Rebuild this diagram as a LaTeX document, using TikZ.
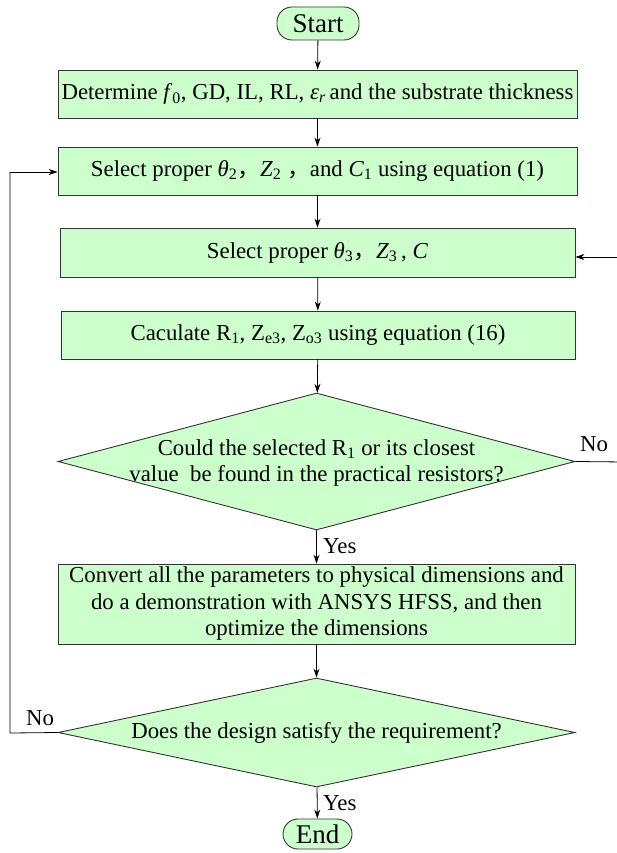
\documentclass[tikz,border=0pt]{standalone}
\usepackage{fontspec}
\setmainfont{Liberation Serif}
\newfontfamily\cjk{Noto Sans CJK SC}
\usetikzlibrary{shapes.geometric,arrows.meta}
\definecolor{boxgreen}{HTML}{CCFFCC}
\definecolor{edgegray}{HTML}{333333}
\begin{document}
\begin{tikzpicture}[x=1pt,y=-1pt,
  every node/.style={font=\fontsize{22.8}{26.5}\selectfont},
  procbox/.style={draw=edgegray,fill=boxgreen,line width=0.9pt,inner sep=0pt,rectangle},
  termbox/.style={draw=edgegray,fill=boxgreen,line width=0.9pt,inner sep=0pt,rectangle,rounded corners=15pt},
  decbox/.style={draw=edgegray,fill=boxgreen,line width=0.9pt,inner sep=0pt,diamond},
  conn/.style={draw=black,line width=0.8pt,-{Stealth[length=9pt,width=6pt]}},
  plainconn/.style={draw=black,line width=0.8pt},
  lbl/.style={inner sep=0pt}]
\useasboundingbox (0,0) rectangle (616,853);
\fill[white] (0,0) rectangle (616,853);

\node[termbox,minimum width=82pt,minimum height=33pt,font=\fontsize{27}{30}\selectfont] (start) at (318,23.5) {Start};
\node[procbox,minimum width=519pt,minimum height=48pt] (b1) at (317.5,94)
  {Determine \textit{f}\textsubscript{0}, GD, IL, RL, \textit{ε}\textsubscript{\textit{r}}\,and the substrate thickness};
\node[procbox,minimum width=519pt,minimum height=48pt] (b2) at (317.5,171)
  {Select proper \textit{θ}\textsubscript{2}{\cjk ，}\textit{Z}\textsubscript{2}\ {\cjk ，}and \textit{C}\textsubscript{1} using equation (1)};
\node[procbox,minimum width=515pt,minimum height=49pt] (b3) at (317.5,252.5)
  {Select proper \textit{θ}\textsubscript{3}{\cjk ，}\textit{Z}\textsubscript{3}\,, \textit{C}};
\node[procbox,minimum width=514pt,minimum height=48pt] (b4) at (318,335)
  {Caculate R\textsubscript{1}, Z\textsubscript{e3}, Z\textsubscript{o3} using equation (16)};
\node[decbox,minimum width=517pt,minimum height=137pt] (d1) at (316.5,461.5) {};
\node[lbl,align=center] (d1t) at (316.5,463) {Could the selected R\textsubscript{1} or its closest\\value\ \ be found in the practical resistors?};
\node[procbox,minimum width=517pt,minimum height=80pt,align=center] (b5) at (316.5,604)
  {Convert all the parameters to physical dimensions and\\do a demonstration with ANSYS HFSS, and then\\optimize the dimensions};
\node[decbox,minimum width=517pt,minimum height=109pt] (d2) at (316.5,732.5) {};
\node[lbl] (d2t) at (316.5,733) {Does the design satisfy the requirement?};
\node[termbox,minimum width=69pt,minimum height=30pt,font=\fontsize{27}{30}\selectfont] (end) at (317.5,834) {End};

\coordinate (rtop) at (624,257);
\coordinate (rbot) at (624,462);
\coordinate (ltop) at (10,172);
\coordinate (lbot) at (10,733);

\draw[conn] (start) -- (b1);
\draw[conn] (b1) -- (b2);
\draw[conn] (b2) -- (b3);
\draw[conn] (b3) -- (b4);
\draw[conn] (b4) -- (d1);
\draw[conn] (d1) -- (b5);
\draw[conn] (b5) -- (d2);
\draw[conn] (d2) -- (end);
\draw[plainconn] (d1.east) -- (rbot) -- (rtop);
\draw[conn] (rtop) -- (b3.east |- rtop);
\draw[plainconn] (d2.west) -- (lbot) -- (ltop);
\draw[conn] (ltop) -- (b2.west |- ltop);

\node[lbl,anchor=west] (yes1) at (323,546) {Yes};
\node[lbl,anchor=west] (yes2) at (323,803) {Yes};
\node[lbl] (no1) at (594,444) {No};
\node[lbl] (no2) at (40,718) {No};
\end{tikzpicture}
\end{document}
